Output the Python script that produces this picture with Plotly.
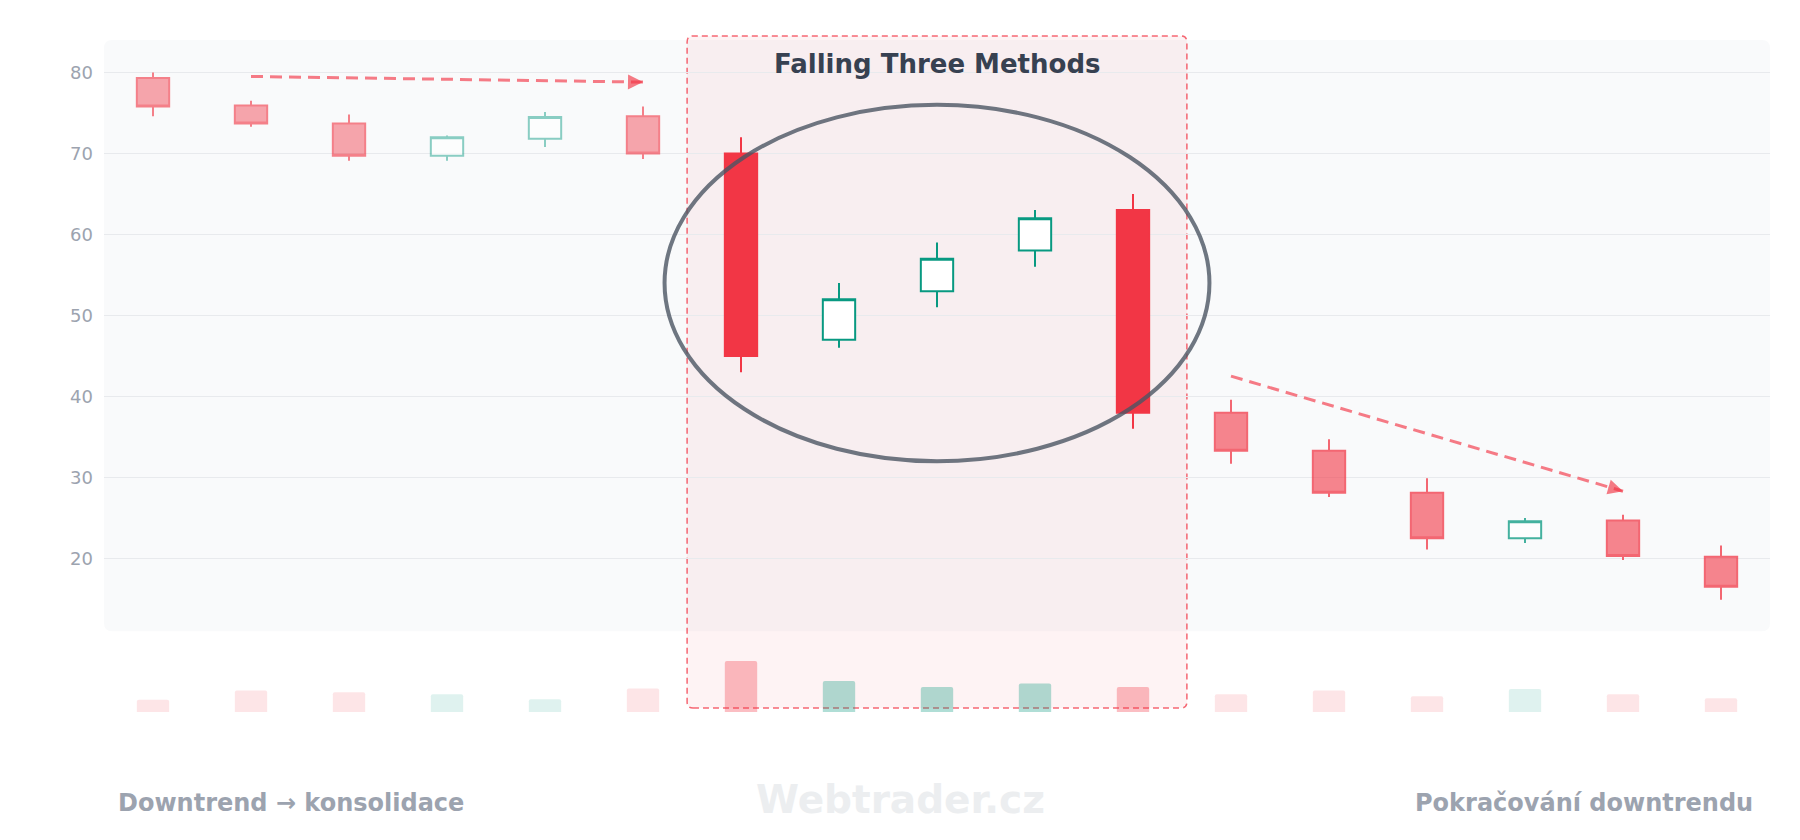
import plotly.graph_objects as go

# candle data
days = list(range(17))
opens = [79.3, 75.9, 73.7, 69.7, 71.8, 74.6, 70.0, 47.0, 53.0, 58.0, 63.0, 38.0, 33.3, 28.1, 22.5, 24.7, 20.2]
highs = [80.0, 76.5, 74.8, 72.2, 75.1, 75.8, 72.0, 54.0, 59.0, 63.0, 65.0, 39.6, 34.7, 29.9, 25.0, 25.4, 21.6]
lows = [74.6, 73.3, 69.1, 69.1, 70.8, 69.3, 43.0, 46.0, 51.0, 56.0, 36.0, 31.7, 27.6, 21.1, 21.9, 19.8, 14.9]
closes = [75.8, 73.7, 69.7, 72.0, 74.5, 70.0, 45.0, 52.0, 57.0, 62.0, 38.0, 33.3, 28.1, 22.5, 24.6, 20.3, 16.5]
volumes = [24, 42, 39, 35, 25, 46, 100, 61, 49, 56, 49, 35, 42, 31, 45, 35, 27]

pattern_start, pattern_end = 6, 10
trend_before = [(1, 79.5), (5, 78.8)]
trend_after = [(11, 42.5), (15, 28.3)]

title_text = 'Falling Three Methods'
left_label = 'Downtrend → konsolidace'
right_label = 'Pokračování downtrendu'
watermark = 'Webtrader.cz'

RED = '#f23645'
GREEN = '#089981'
FONT = 'DejaVu Sans'


def rgba(hex_color, a):
    h = hex_color.lstrip('#')
    r, g, b = int(h[0:2], 16), int(h[2:4], 16), int(h[4:6], 16)
    return f'rgba({r},{g},{b},{a})'


def candles(idx, opacity, red_fill, green_line):
    return go.Candlestick(
        x=[days[i] for i in idx],
        open=[opens[i] for i in idx],
        high=[highs[i] for i in idx],
        low=[lows[i] for i in idx],
        close=[closes[i] for i in idx],
        increasing=dict(line=dict(color=green_line, width=2), fillcolor='white'),
        decreasing=dict(line=dict(color=RED, width=2), fillcolor=red_fill),
        whiskerwidth=0,
        opacity=opacity,
        showlegend=False,
        hoverinfo='skip',
        xaxis='x', yaxis='y',
    )


pre = list(range(0, pattern_start))
pat = list(range(pattern_start, pattern_end + 1))
post = list(range(pattern_end + 1, len(days)))

fig = go.Figure()
fig.add_trace(candles(pre, 0.62, rgba(RED, 0.7), rgba(GREEN, 0.75)))
fig.add_trace(candles(pat, 1.0, RED, GREEN))
fig.add_trace(candles(post, 0.75, rgba(RED, 0.8), GREEN))

# volume bars
vol_colors = []
for i in days:
    up = closes[i] >= opens[i]
    a = 0.32 if pattern_start <= i <= pattern_end else 0.13
    vol_colors.append(rgba(GREEN if up else RED, a))
fig.add_trace(go.Bar(
    x=days, y=volumes, width=0.33,
    marker=dict(color=vol_colors, line=dict(width=0), cornerradius=2),
    xaxis='x', yaxis='y2', showlegend=False, hoverinfo='skip',
))

# background panel for price area (rounded)
rx, ry = 0.005, 0.014
bg_path = (f'M {rx},0 L {1-rx},0 Q 1,0 1,{ry} L 1,{1-ry} Q 1,1 {1-rx},1 '
           f'L {rx},1 Q 0,1 0,{1-ry} L 0,{ry} Q 0,0 {rx},0 Z')
fig.add_shape(type='path', path=bg_path, xref='x domain', yref='y domain',
              fillcolor='#f9fafb', line=dict(width=0), layer='below')

# highlight box around the pattern
x0, x1 = pattern_start - 0.55, pattern_end + 0.55
y0, y1 = 0.006, 1.006
cx, cy = 0.06, 0.009
hl_path = (f'M {x0+cx},{y0} L {x1-cx},{y0} Q {x1},{y0} {x1},{y0+cy} L {x1},{y1-cy} '
           f'Q {x1},{y1} {x1-cx},{y1} L {x0+cx},{y1} Q {x0},{y1} {x0},{y1-cy} '
           f'L {x0},{y0+cy} Q {x0},{y0} {x0+cx},{y0} Z')
fig.add_shape(type='path', path=hl_path, xref='x', yref='paper',
              fillcolor=rgba(RED, 0.06),
              line=dict(color=rgba(RED, 0.75), width=1.5, dash='6px,4px'),
              layer='below')

# ellipse around the pattern
fig.add_shape(type='circle', xref='x', yref='y', x0=5.22, x1=10.78, y0=32, y1=76,
              line=dict(color='rgba(75,85,99,0.8)', width=4), layer='above')

# dashed trend arrows
for (xa, ya), (xb, yb) in (trend_before, trend_after):
    fig.add_shape(type='line', xref='x', yref='y', x0=xa, y0=ya, x1=xb, y1=yb,
                  line=dict(color=rgba(RED, 0.65), width=3, dash='12px,7px'))
    t = 0.04
    fig.add_annotation(x=xb, y=yb, xref='x', yref='y', axref='x', ayref='y',
                       ax=xb - (xb - xa) * t, ay=yb - (yb - ya) * t, text='',
                       showarrow=True, arrowhead=2, arrowsize=1.2, arrowwidth=2.5,
                       arrowcolor=rgba(RED, 0.65), standoff=0)

fig.add_annotation(x=(pattern_start + pattern_end) / 2, y=81, xref='x', yref='y',
                   text=f'<b>{title_text}</b>', showarrow=False, yanchor='middle',
                   font=dict(family=FONT, size=26, color='#374151'))

fig.add_annotation(x=0, y=-0.135, xref='paper', yref='paper', xshift=12,
                   text=f'<b>{left_label}</b>', showarrow=False,
                   xanchor='left', yanchor='middle',
                   font=dict(family=FONT, size=24, color='#9ca3af'))
fig.add_annotation(x=1, y=-0.135, xref='paper', yref='paper', xshift=-15,
                   text=f'<b>{right_label}</b>', showarrow=False,
                   xanchor='right', yanchor='middle',
                   font=dict(family=FONT, size=24, color='#9ca3af'))
fig.add_annotation(x=0.478, y=-0.13, xref='paper', yref='paper',
                   text=f'<b>{watermark}</b>', showarrow=False,
                   xanchor='center', yanchor='middle',
                   font=dict(family=FONT, size=39, color='#eceef0'))

fig.update_layout(
    width=1792, height=832,
    margin=dict(l=96, r=30, t=32, b=128),
    paper_bgcolor='white', plot_bgcolor='white',
    font=dict(family=FONT, color='#9ca3af'),
    boxgap=0.67, boxgroupgap=0,
    xaxis=dict(range=[-0.5, 16.5], visible=False, rangeslider=dict(visible=False)),
    yaxis=dict(domain=[0.12, 1], range=[11, 84], tick0=0, dtick=10,
               showgrid=True, gridcolor='#e8eaed', gridwidth=1, zeroline=False,
               showline=False, ticks='', ticklabelstandoff=10,
               tickfont=dict(size=18, color='#9ca3af')),
    yaxis2=dict(domain=[0, 0.1], range=[0, 132], visible=False),
    showlegend=False,
)

fig.write_html('out.html')
